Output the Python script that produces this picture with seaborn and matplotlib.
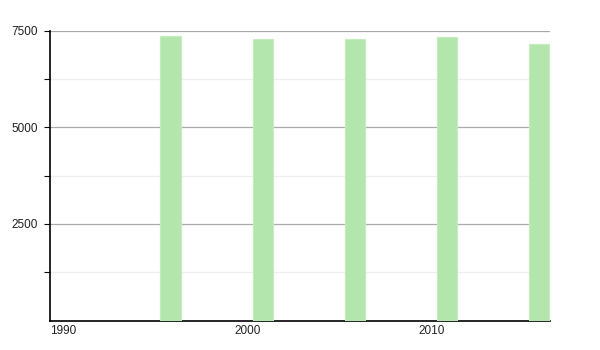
import matplotlib
matplotlib.use("Agg")
import matplotlib.pyplot as plt
import seaborn as sns
import numpy as np
import pandas as pd
from matplotlib.ticker import FixedLocator

years = [1996, 2001, 2006, 2011, 2016]
population = [7358, 7272, 7272, 7324, 7159]
y_major = [2500, 5000, 7500]
y_minor = [1250, 3750, 6250]
x_ticks = [1990, 2000, 2010]

sns.set_theme(style="white")
plt.rcParams['font.family'] = ['Liberation Sans', 'DejaVu Sans']

fig = plt.figure(figsize=(6, 3.5), dpi=100)
ax = fig.add_axes([50/600, 1 - 320.5/350, 500/600, 290/350])

bar_w = 1.1
df = pd.DataFrame({"x": np.array(years) + bar_w / 2, "pop": population})
sns.barplot(data=df, x="x", y="pop", native_scale=True, width=bar_w / 5,
            color="#b3e6ac", saturation=1, edgecolor="#c4ecbe", linewidth=0.8,
            ax=ax, zorder=3)

ax.yaxis.set_major_locator(FixedLocator(y_major))
ax.yaxis.set_minor_locator(FixedLocator(y_minor))
ax.set_yticks(y_major)
ax.set_yticklabels([str(v) for v in y_major], fontsize=8.5, color="#222222")
ax.set_xticks(x_ticks)
ax.set_xticklabels([str(v) for v in x_ticks], fontsize=8.5, color="#222222", ha="left")

ax.set_xlim(1990, 2017.15)
ax.set_ylim(0, 7500)

ax.grid(True, which="major", axis="y", color="#aaaaaa", linewidth=0.9, zorder=0)
ax.grid(True, which="minor", axis="y", color="#eeeeee", linewidth=0.9, zorder=0)
ax.grid(False, axis="x")
ax.set_axisbelow(True)

ax.tick_params(axis="y", which="major", length=4, width=0.8, color="black",
               direction="out", left=True, pad=5)
ax.tick_params(axis="y", which="minor", length=4, width=0.8, color="black",
               direction="out", left=True)
ax.tick_params(axis="x", which="both", length=0, pad=3)

for s in ["top", "right"]:
    ax.spines[s].set_visible(False)
for s in ["left", "bottom"]:
    ax.spines[s].set_color("black")
    ax.spines[s].set_linewidth(1.2)

ax.set_xlabel("")
ax.set_ylabel("")

fig.savefig("out.png", dpi=100, facecolor="white")
